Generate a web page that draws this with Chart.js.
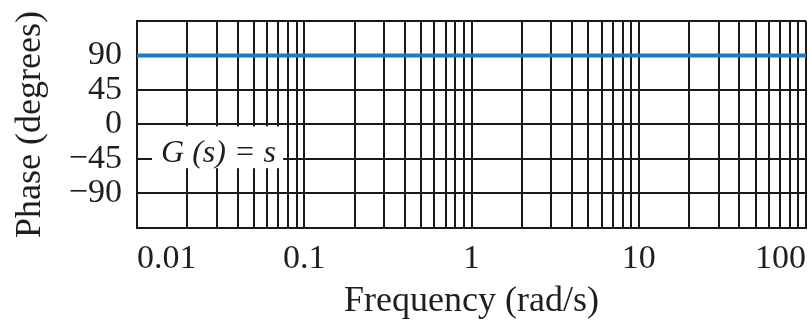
<!DOCTYPE html>
<html>
<head>
<meta charset="utf-8">
<script src="https://cdn.jsdelivr.net/npm/chart.js@4.4.1/dist/chart.umd.min.js"></script>
<style>
  html, body { margin: 0; padding: 0; background: #fff; }
  #wrap { width: 810px; height: 320px; }
</style>
</head>
<body>
<div id="wrap"><canvas id="c" width="810" height="320"></canvas></div>
<script>
// ── data ────────────────────────────────────────────────────────────────────
const freq  = [0.01, 0.1, 1, 10, 100];      // rad/s
const phase = [90, 90, 90, 90, 90];         // degrees, G(s) = s

const xGrid = [
  0.01, 0.02, 0.03, 0.04, 0.05, 0.06, 0.07, 0.08, 0.09,
  0.1, 0.2, 0.3, 0.4, 0.5, 0.6, 0.7, 0.8, 0.9,
  1, 2, 3, 4, 5, 6, 7, 8, 9,
  10, 20, 30, 40, 50, 60, 70, 80, 90,
  100
];
const xTickValues = [0.01, 0.1, 1, 10, 100];
const xTickLabels = ['0.01', '0.1', '1', '10', '100'];

const yGrid       = [-135, -90, -45, 0, 45, 90, 135];
const yTickValues = [-90, -45, 0, 45, 90];
const yTickLabels = ['\u221290', '\u221245', '0', '45', '90'];

const noteText = 'G (s) = s';

// ── style ───────────────────────────────────────────────────────────────────
const SERIF = "'Liberation Serif', 'Times New Roman', serif";
const INK   = '#1e1e1e';
const GRID  = '#1a1a1a';
const BLUE  = '#1c7bc0';

// white box with the transfer function, sitting on the grid
const notePlugin = {
  id: 'note',
  afterDraw(chart) {
    const { ctx, scales: { x, y } } = chart;
    const x1 = x.getPixelForValue(0.0123), x2 = x.getPixelForValue(0.0748);
    const y1 = y.getPixelForValue(-2.5),   y2 = y.getPixelForValue(-57);
    ctx.save();
    ctx.fillStyle = '#fff';
    ctx.fillRect(x1, y1, x2 - x1, y2 - y1);
    ctx.fillStyle = INK;
    ctx.font = "italic 32px " + SERIF;
    ctx.textBaseline = 'alphabetic';
    ctx.textAlign = 'left';
    ctx.fillText(noteText, x1 + 9, y2 - 6);
    ctx.restore();
  }
};

new Chart(document.getElementById('c'), {
  type: 'line',
  data: {
    datasets: [{
      data: freq.map((f, i) => ({ x: f, y: phase[i] })),
      borderColor: BLUE,
      borderWidth: 4,
      pointRadius: 0,
      fill: false,
      tension: 0,
    }]
  },
  options: {
    responsive: false,
    animation: false,
    layout: { padding: { top: 0, right: 0, left: 0, bottom: 0 } },
    plugins: { legend: { display: false }, tooltip: { enabled: false } },
    scales: {
      x: {
        type: 'logarithmic',
        min: 0.01,
        max: 100,
        afterBuildTicks: s => { s.ticks = xGrid.map(v => ({ value: v })); },
        afterFit: s => { s.height = 92; },
        ticks: {
          autoSkip: false,
          maxRotation: 0,
          align: 'inner',
          padding: 4,
          color: INK,
          font: { family: SERIF, size: 34, lineHeight: 1.6 },
          callback: v => {
            const i = xTickValues.findIndex(t => Math.abs(t - v) < 1e-9);
            return i >= 0 ? xTickLabels[i] : '';
          }
        },
        grid: { color: GRID, lineWidth: 2, drawTicks: false },
        border: { color: GRID, width: 2 },
        title: {
          display: true,
          text: 'Frequency (rad/s)',
          color: INK,
          font: { family: SERIF, size: 36, lineHeight: 1 },
          padding: { top: 0, bottom: 0 }
        }
      },
      y: {
        min: -135,
        max: 135,
        afterBuildTicks: s => { s.ticks = yGrid.map(v => ({ value: v })); },
        afterFit: s => { s.width = 137; },
        ticks: {
          autoSkip: false,
          padding: 15,
          color: INK,
          font: { family: SERIF, size: 34, lineHeight: 0.35 },
          callback: v => {
            const i = yTickValues.indexOf(v);
            return i >= 0 ? yTickLabels[i] : '';
          }
        },
        grid: { color: GRID, lineWidth: 2, drawTicks: false },
        border: { color: GRID, width: 2 },
        title: {
          display: true,
          text: 'Phase (degrees)',
          color: INK,
          font: { family: SERIF, size: 36, lineHeight: 1.2 },
          padding: { top: 9, bottom: 0 }
        }
      }
    }
  },
  plugins: [notePlugin]
});
</script>
</body>
</html>
